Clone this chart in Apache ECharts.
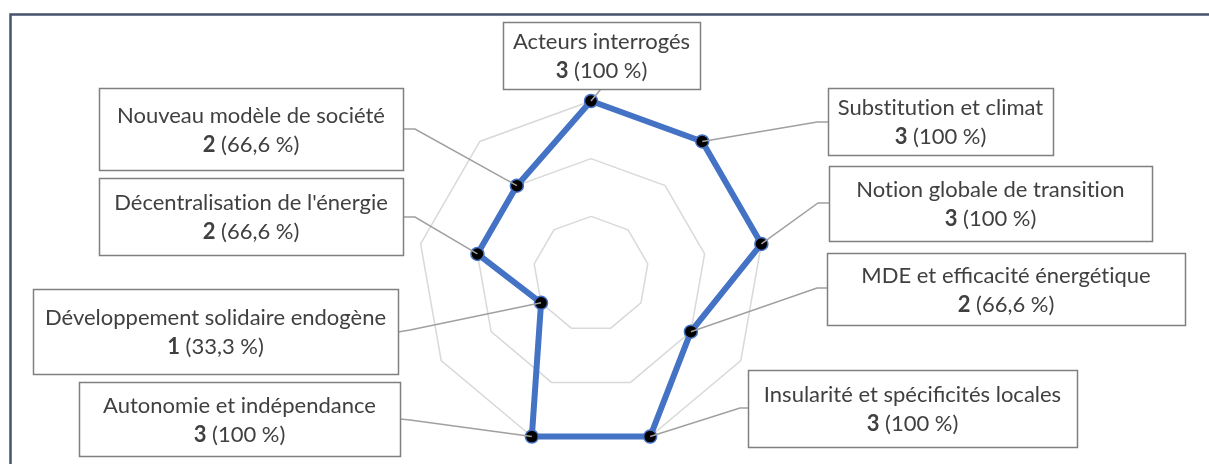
<!DOCTYPE html>
<html>
<head>
<meta charset="utf-8">
<script src="https://cdn.jsdelivr.net/npm/echarts@6/dist/echarts.min.js"></script>
<style>
  html, body { margin: 0; padding: 0; background: #fff; }
  #chart { width: 1209px; height: 464px; }
</style>
</head>
<body>
<div id="chart"></div>
<script>
// axes in clockwise order, starting at the top
const categories = [
  'Acteurs interrogés',
  'Substitution et climat',
  'Notion globale de transition',
  'MDE et efficacité énergétique',
  'Insularité et spécificités locales',
  'Autonomie et indépendance',
  'Développement solidaire endogène',
  "Décentralisation de l'énergie",
  'Nouveau modèle de société'
]
const counts = [3, 3, 3, 2, 3, 3, 1, 2, 2]
const percentLabels = ['100', '100', '100', '66,6', '100', '100', '33,3', '66,6', '66,6']
const maxCount = 3

// label boxes: [x, y, w, h], anchor on the box, elbow of the leader line
const boxes = [
  { rect: [503, 22, 197, 67], anchor: [601, 89], elbow: null },
  { rect: [828, 88, 225, 67], anchor: [828, 122], elbow: [817, 122] },
  { rect: [829, 166, 323, 75], anchor: [829, 203], elbow: [818, 203] },
  { rect: [827, 253, 358, 72], anchor: [827, 288], elbow: [817, 288] },
  { rect: [748, 370, 329, 77], anchor: [748, 408], elbow: [740, 408] },
  { rect: [79, 382, 321, 74], anchor: [400, 419], elbow: [410, 420] },
  { rect: [33, 289, 365, 85], anchor: [398, 332], elbow: [410, 330] },
  { rect: [99, 178, 304, 77], anchor: [403, 217], elbow: [415, 217] },
  { rect: [99, 88, 304, 82], anchor: [403, 129], elbow: [415, 129] }
]

const textColor = '#404040'
const fontFamily = 'Lato, "Open Sans", sans-serif'

// Lato draws a "ti" ligature, the original font doesn't
const noLig = s => s.replace(/ti/g, 't\u200ci')

// echarts lays indicators out counter-clockwise: reorder
const order = [0, 8, 7, 6, 5, 4, 3, 2, 1]

const chart = echarts.init(document.getElementById('chart'))

chart.setOption({
  animation: false,
  radar: {
    center: [591, 274],
    radius: 173,
    startAngle: 90,
    shape: 'polygon',
    splitNumber: 3,
    indicator: order.map(i => ({ name: categories[i], min: 0, max: maxCount })),
    axisName: { show: false },
    axisLine: { show: false },
    axisTick: { show: false },
    axisLabel: { show: false },
    splitArea: { show: false },
    splitLine: { lineStyle: { color: '#d9d9d9', width: 1.5 } }
  },
  series: [{
    type: 'radar',
    symbol: 'circle',
    symbolSize: 13,
    lineStyle: { color: '#4472c4', width: 6 },
    itemStyle: { color: '#000', borderColor: '#4472c4', borderWidth: 1.5 },
    data: [{ value: order.map(i => counts[i]), name: 'Thèmes' }]
  }]
})

// find pixel positions of the points through the radar coordinate system
const radarSys = chart.getModel().getComponent('radar', 0).coordinateSystem

const graphics = [{
  type: 'rect',
  silent: true,
  shape: { x: 10.5, y: 14.5, width: 1215, height: 470 },
  style: { fill: 'none', stroke: '#44546a', lineWidth: 2.5 },
  z: 20
}]

categories.forEach((name, i) => {
  const idx = order.indexOf(i)
  const pt = radarSys.dataToPoint(counts[i], idx)
  const b = boxes[i]
  const pts = [b.anchor]
  if (b.elbow) pts.push(b.elbow)
  pts.push(pt)
  graphics.push({
    type: 'polyline',
    silent: true,
    shape: { points: pts },
    style: { stroke: '#a0a0a0', lineWidth: 1.5, fill: null },
    z: 15
  })
  const [x, y, w, h] = b.rect
  graphics.push({
    type: 'rect',
    silent: true,
    shape: { x: x + 0.5, y: y + 0.5, width: w, height: h },
    style: { fill: '#fff', stroke: '#808080', lineWidth: 1.5 },
    z: 16
  })
  graphics.push({
    type: 'text',
    silent: true,
    x: x + w / 2,
    y: y + h / 2 + 1,
    style: {
      text: noLig(name) + '\n{b|' + counts[i] + '} (' + percentLabels[i] + ' %)',
      align: 'center',
      verticalAlign: 'middle',
      fontSize: 22,
      fontFamily: fontFamily,
      lineHeight: 29,
      fill: textColor,
      rich: {
        b: { fontWeight: 'bold', fontSize: 22, fontFamily: fontFamily, lineHeight: 29, fill: textColor }
      }
    },
    z: 17
  })
})

chart.setOption({ graphic: graphics })
</script>
</body>
</html>
